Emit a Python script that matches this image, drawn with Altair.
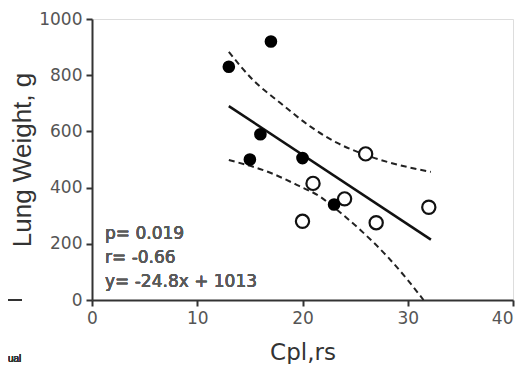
import altair as alt
import pandas as pd

# Data
filled_x = [13, 17, 16, 15, 20, 23]
filled_y = [830, 920, 590, 500, 505, 340]
open_x = [26, 21, 24, 20, 27, 32]
open_y = [520, 415, 360, 280, 275, 330]
fit_x = [13, 32.2]
fit_y = [690, 215]
upper_x = [13, 15.3, 17.9, 20.8, 23.3, 25.5, 28.1, 32.2]
upper_y = [883, 783, 701, 616, 559, 523, 491, 456]
lower_x = [13, 17.0, 19.5, 21.7, 23.3, 25.5, 28.1, 30.0, 31.5]
lower_y = [498, 452, 409, 367, 320, 249, 153, 71, 0]
x_ticks = [0, 10, 20, 30, 40]
y_ticks = [0, 200, 400, 600, 800, 1000]
stats_lines = ["p= 0.019", "r= -0.66", "y= -24.8x + 1013"]
x_title = "Cpl,rs"
y_title = "Lung Weight, g"
fragment_text = "ual"

FONT = "DejaVu Sans"
TFONT = "Liberation Sans"

filled = pd.DataFrame({"x": filled_x, "y": filled_y})
opened = pd.DataFrame({"x": open_x, "y": open_y})
fit = pd.DataFrame({"x": fit_x, "y": fit_y})
upper = pd.DataFrame({"x": upper_x, "y": upper_y})
lower = pd.DataFrame({"x": lower_x, "y": lower_y})

xscale = alt.Scale(domain=[0, 40], nice=False, zero=False)
yscale = alt.Scale(domain=[0, 1000], nice=False)

xaxis = alt.Axis(
    values=x_ticks, format="d", title=x_title, grid=False, domainColor="#333",
    domainWidth=2, tickColor="#333", tickWidth=2, tickSize=6, labelFont=FONT,
    labelFontSize=17, labelColor="#555", labelPadding=4, labelFlush=False,
    labelOverlap=False, labelBound=False,
    labelAlign={"condition": {"test": f"datum.value == {x_ticks[-1]}", "value": "right"},
                "value": "center"},
    titleFont=FONT,
    titleFontSize=23, titleFontWeight="normal", titleColor="#333", titleX=210.5,
    titleY=64, titleBaseline="bottom", titleAlign="center",
)
yaxis = alt.Axis(
    values=y_ticks, format="d", title=y_title, grid=False, domainColor="#333",
    domainWidth=2, tickColor="#333", tickWidth=2, tickSize=6, labelFont=FONT,
    labelFontSize=17, labelColor="#555", labelPadding=4, labelFlush=False,
    labelOverlap=False, titleFont=TFONT,
    titleFontSize=26, titleFontWeight="normal", titleColor="#333", titleX=-70,
    titleY=140.5, titleAngle=-90, titleBaseline="middle", titleAlign="center",
)

X = alt.X("x:Q", scale=xscale, axis=xaxis)
Y = alt.Y("y:Q", scale=yscale, axis=yaxis)
Xn = alt.X("x:Q", scale=xscale)
Yn = alt.Y("y:Q", scale=yscale)

base_axes = alt.Chart(filled).mark_point(opacity=0).encode(x=X, y=Y)

upper_line = alt.Chart(upper).mark_line(
    color="#222", strokeWidth=2, strokeDash=[6, 4], interpolate="monotone"
).encode(x=Xn, y=Yn)
lower_line = alt.Chart(lower).mark_line(
    color="#222", strokeWidth=2, strokeDash=[6, 4], interpolate="monotone"
).encode(x=Xn, y=Yn)
fit_line = alt.Chart(fit).mark_line(color="#111", strokeWidth=2.5).encode(x=Xn, y=Yn)

open_pts = alt.Chart(opened).mark_point(
    shape="circle", filled=True, fill="white", stroke="#111", strokeWidth=2.2,
    size=175, opacity=1
).encode(x=Xn, y=Yn)
filled_pts = alt.Chart(filled).mark_point(
    shape="circle", filled=True, color="#000", size=160, opacity=1
).encode(x=Xn, y=Yn)

stats = alt.Chart(filled).mark_text(
    align="left", baseline="top", font=FONT, fontSize=17, fontWeight="normal",
    color="#5a5a5a", lineHeight=24
).encode(x=alt.value(13), y=alt.value(207), text=alt.value(stats_lines))

frag_rule = alt.Chart(filled).mark_rule(color="#333", strokeWidth=1.5).encode(
    x=alt.value(-84), x2=alt.value(-70), y=alt.value(281)
)
frag_text = alt.Chart(filled).mark_text(
    align="left", baseline="middle", font=TFONT, fontSize=10, color="#333"
).encode(x=alt.value(-84), y=alt.value(340), text=alt.value(fragment_text))

chart = alt.layer(
    base_axes, upper_line, lower_line, fit_line, open_pts, filled_pts, stats,
    frag_rule, frag_text
).properties(
    width=421, height=281,
    autosize=alt.AutoSizeParams(type="none"),
    padding={"left": 84, "top": 11, "right": 2, "bottom": 64},
).configure_view(stroke=None).configure(background="white")

chart.save("out.html", embed_options={"renderer": "svg", "actions": False})
